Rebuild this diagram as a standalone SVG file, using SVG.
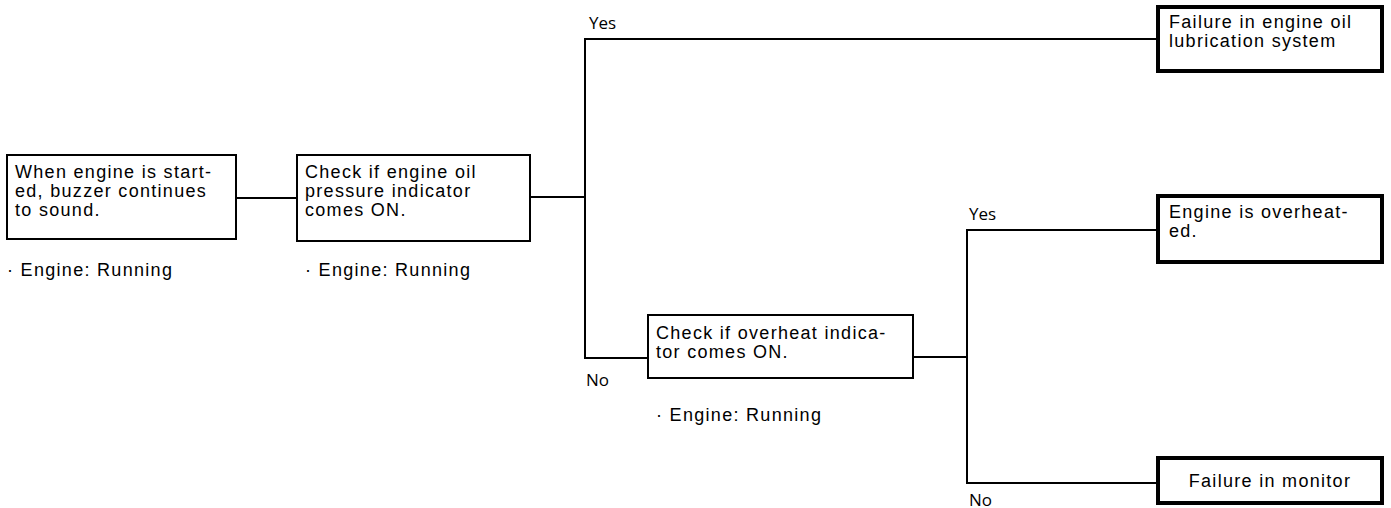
<svg xmlns="http://www.w3.org/2000/svg" width="1391" height="508" viewBox="0 0 1391 508">
  <style>
    .step { fill: #fff; stroke: #000; stroke-width: 2; }
    .result { fill: #fff; stroke: #000; stroke-width: 4; }
    .wire { fill: none; stroke: #000; stroke-width: 2; }
    text { font-family: "Liberation Sans", Arial, sans-serif; font-size: 18px; letter-spacing: 1.3px; fill: #000; }
    .yn { font-family: "Open Sans", "Liberation Sans", sans-serif; font-size: 17px; letter-spacing: 0; }
  </style>

  <!-- connectors -->
  <g id="connectors">
    <path class="wire" d="M236 198 H297"/>
    <path class="wire" d="M530 197 H585"/>
    <path class="wire" d="M1157 39 H585 V358 H648"/>
    <path class="wire" d="M913 357 H967"/>
    <path class="wire" d="M1157 230 H967 V483 H1157"/>
    <text class="yn" x="589" y="29">Yes</text>
    <text class="yn" x="586" y="386">No</text>
    <text class="yn" x="969" y="220">Yes</text>
    <text class="yn" x="969" y="506">No</text>
  </g>

  <g id="start">
    <rect class="step" x="7" y="155" width="229" height="84"/>
    <text x="15" y="178">When engine is start-</text>
    <text x="15" y="197">ed, buzzer continues</text>
    <text x="15" y="216">to sound.</text>
    <text x="7" y="276">· Engine: Running</text>
  </g>

  <g id="check-oil">
    <rect class="step" x="297" y="155" width="233" height="86"/>
    <text x="305" y="178">Check if engine oil</text>
    <text x="305" y="197">pressure indicator</text>
    <text x="305" y="216">comes ON.</text>
    <text x="305" y="276">· Engine: Running</text>
  </g>

  <g id="check-overheat">
    <rect class="step" x="648" y="315" width="265" height="63"/>
    <text x="656" y="339">Check if overheat indica-</text>
    <text x="656" y="358">tor comes ON.</text>
    <text x="656" y="421">· Engine: Running</text>
  </g>

  <g id="oil-failure">
    <rect class="result" x="1158" y="7" width="224" height="64"/>
    <text x="1169" y="28">Failure in engine oil</text>
    <text x="1169" y="47">lubrication system</text>
  </g>

  <g id="overheated">
    <rect class="result" x="1158" y="196" width="224" height="66"/>
    <text x="1169" y="218">Engine is overheat-</text>
    <text x="1169" y="237">ed.</text>
  </g>

  <g id="monitor-failure">
    <rect class="result" x="1158" y="458" width="224" height="45"/>
    <text x="1270" y="487" text-anchor="middle">Failure in monitor</text>
  </g>
</svg>
